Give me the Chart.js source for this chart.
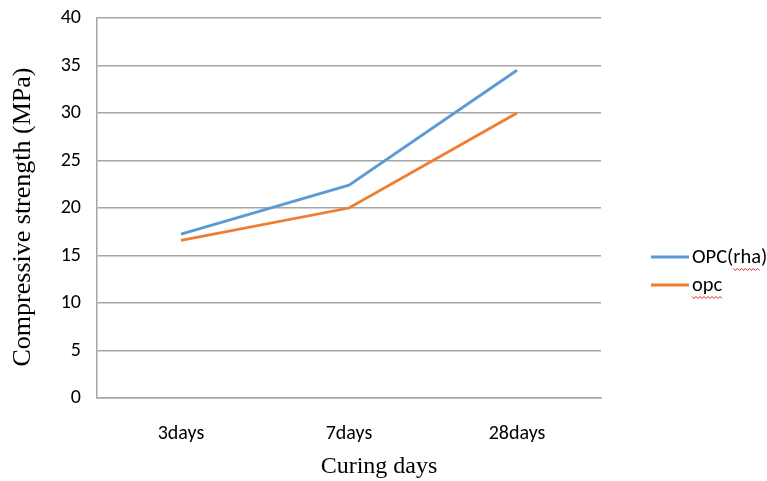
<!DOCTYPE html>
<html><head><meta charset="utf-8">
<script src="https://cdn.jsdelivr.net/npm/chart.js@4/dist/chart.umd.min.js"></script>
<style>html,body{margin:0;padding:0;background:#fff}#wrap{width:767px;height:481px}</style>
</head><body><div id="wrap"><canvas id="c" width="767" height="481"></canvas></div>
<script>
const categories = ["3days", "7days", "28days"];
const opcRha = [17.25, 22.4, 34.5];
const opc = [16.6, 20.0, 30.0];
const seriesNames = ["OPC(rha)", "opc"];
const colors = ["#5B9BD5", "#ED7D31"];
const yTitle = "Compressive strength (MPa)";
const xTitle = "Curing days";
const tickFont = "'Carlito', 'Lato', sans-serif";
const serif = "'Liberation Serif', 'DejaVu Serif', serif";

const legendPlugin = {
  id: 'customLegend',
  afterDraw(chart) {
    const ctx = chart.ctx;
    ctx.save();
    ctx.font = "26px " + serif;
    ctx.fillStyle = '#000';
    ctx.textAlign = 'center';
    ctx.textBaseline = 'middle';
    ctx.translate(23, 217);
    ctx.rotate(-Math.PI / 2);
    ctx.fillText(yTitle, 0, 0);
    ctx.restore();

    ctx.save();
    ctx.font = "24px " + serif;
    ctx.fillStyle = '#000';
    ctx.textAlign = 'center';
    ctx.textBaseline = 'middle';
    ctx.fillText(xTitle, (chart.chartArea.left + chart.chartArea.right) / 2 + 30, 467);
    ctx.restore();

    ctx.save();
    ctx.font = "20.5px " + tickFont;
    ctx.textBaseline = 'middle';
    const items = [{name: seriesNames[0], color: colors[0], y: 257, sub: "OPC("},
                   {name: seriesNames[1], color: colors[1], y: 285, sub: ""}];
    items.forEach(it => {
      ctx.strokeStyle = it.color; ctx.lineWidth = 3;
      ctx.beginPath(); ctx.moveTo(651, it.y); ctx.lineTo(689, it.y); ctx.stroke();
      ctx.fillStyle = '#000';
      ctx.fillText(it.name, 692, it.y + 1);
      const word = it.sub ? it.name.slice(it.sub.length).replace(')', '') : it.name;
      const x0 = 692 + ctx.measureText(it.sub).width;
      const x1 = x0 + ctx.measureText(word).width;
      ctx.strokeStyle = '#e02020'; ctx.lineWidth = 1;
      ctx.beginPath();
      const yy = it.y + 12;
      for (let x = x0, i = 0; x <= x1; x += 2, i++) {
        const py = yy + (i % 2 ? 1.5 : -0.5);
        if (i === 0) ctx.moveTo(x, py); else ctx.lineTo(x, py);
      }
      ctx.stroke();
    });
    ctx.restore();
  }
};

new Chart(document.getElementById('c'), {
  type: 'line',
  data: {
    labels: categories,
    datasets: [
      {label: seriesNames[0], data: opcRha, borderColor: colors[0], backgroundColor: colors[0], borderWidth: 2.8, pointRadius: 0, tension: 0},
      {label: seriesNames[1], data: opc, borderColor: colors[1], backgroundColor: colors[1], borderWidth: 2.8, pointRadius: 0, tension: 0}
    ]
  },
  options: {
    responsive: false,
    animation: false,
    layout: {padding: {top: 0, right: 166, left: 0, bottom: 0}},
    plugins: {legend: {display: false}, tooltip: {enabled: false}},
    scales: {
      x: {
        offset: true,
        grid: {display: false, drawTicks: false},
        border: {display: true, color: '#a6a6a6', width: 1.5},
        ticks: {font: {family: tickFont, size: 20}, color: '#000', padding: 24},
        title: {display: false},
        afterFit: s => { s.height = 83; }
      },
      y: {
        min: 0, max: 40,
        ticks: {stepSize: 5, font: {family: tickFont, size: 20}, color: '#000', padding: 16},
        grid: {color: '#a6a6a6', lineWidth: 1.5, drawTicks: false},
        border: {display: true, color: '#a6a6a6', width: 1.5},
        title: {display: false},
        afterFit: s => { s.width = 97; s.paddingTop = 18; }
      }
    }
  },
  plugins: [legendPlugin]
});
</script>
</body></html>
